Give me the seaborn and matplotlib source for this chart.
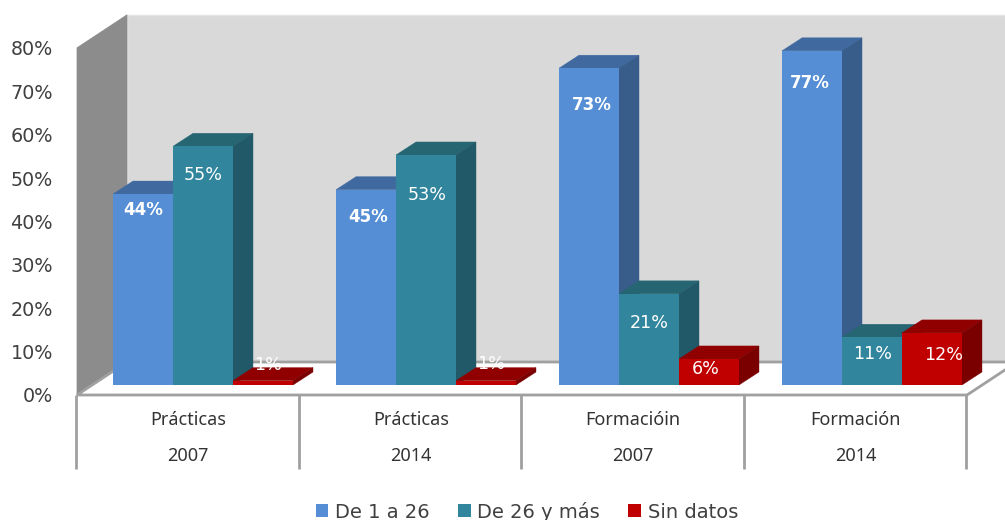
import matplotlib
matplotlib.use("Agg")
import matplotlib.pyplot as plt
from matplotlib.patches import Polygon
import pandas as pd
import seaborn as sns

# ---- data ----
groups = ["Prácticas 2007", "Prácticas 2014", "Formacióin 2007", "Formación 2014"]
group_line1 = ["Prácticas", "Prácticas", "Formacióin", "Formación"]
group_line2 = ["2007", "2014", "2007", "2014"]
series_names = ["De 1 a 26", "De 26 y más", "Sin datos"]
de_1_a_26 = [44, 45, 73, 77]
de_26_y_mas = [55, 53, 21, 11]
sin_datos = [1, 1, 6, 12]
y_ticks = [0, 10, 20, 30, 40, 50, 60, 70, 80]

# ---- style / layout ----
W, H = 1005, 520
PX_X = 223.0           # pixels per category
PX_Y = 4.34            # pixels per percentage point
X0_PX, Y0_PX = 203.0, 385.0
front_col = ["#558ED5", "#31859C", "#C00000"]
top_col = ["#4069A0", "#256672", "#900000"]
side_col = ["#385D8A", "#215968", "#7A0000"]
label_drop_px = [[16, 29, -16], [27, 40, -17], [37, 29, 10], [32, 17, 22]]
label_shift_px = [[0, 0, 5], [2, 1, 5], [3, 0, -3], [-2, 1, 12]]
DX, DY = 20 / PX_X, 13 / PX_Y             # bar depth
WX, WY = 50 / PX_X, 33 / PX_Y             # chart depth
FX0, FX1 = (77 - X0_PX) / PX_X, (967 - X0_PX) / PX_X   # front floor edge
FY = -10 / PX_Y
TICK_DROP = 2 / PX_Y
TEXT = "#404040"
EDGE = "#A0A0A0"

sns.set_theme(style="white")
plt.rcParams["font.family"] = ["DejaVu Sans"]

df = pd.DataFrame({
    "grupo": groups * 3,
    "serie": [s for s in series_names for _ in groups],
    "valor": de_1_a_26 + de_26_y_mas + sin_datos,
})

fig = plt.figure(figsize=(W / 100, H / 100), dpi=100, facecolor="white")
ax = fig.add_axes([0, 0, 1, 1])
sns.barplot(data=df, x="grupo", y="valor", hue="serie", order=groups,
            hue_order=series_names, palette=front_col, saturation=1,
            width=0.807, gap=0, errorbar=None, linewidth=0, legend=False, ax=ax)
ax.set_xlim((0 - X0_PX) / PX_X, (W - X0_PX) / PX_X)
ax.set_ylim((Y0_PX - H) / PX_Y, Y0_PX / PX_Y)
ax.set_axis_off()

# walls and floor
ymax = y_ticks[-1]
ax.add_patch(Polygon([(FX0 + WX, FY + WY), (FX1 + WX, FY + WY), (FX1 + WX, FY + ymax + WY), (FX0 + WX, FY + ymax + WY)],
                     fc="#D9D9D9", ec="#E4E4E4", lw=1, zorder=0.5))
ax.add_patch(Polygon([(FX0, FY), (FX0 + WX, FY + WY), (FX0 + WX, FY + ymax + WY), (FX0, FY + ymax)],
                     fc="#8C8C8C", ec="#8C8C8C", lw=0.5, zorder=0.6))
ax.add_patch(Polygon([(FX0, FY), (FX1, FY), (FX1 + WX, FY + WY), (FX0 + WX, FY + WY)],
                     fc="white", ec=EDGE, lw=2, zorder=0.7))

# 3D faces for every bar
handles = []
for h, cont in enumerate(ax.containers):
    handles.append(cont[0])
    for g, bar in enumerate(cont):
        z = 2 + g * 4 + h
        x0, w, v = bar.get_x(), bar.get_width(), bar.get_height()
        bar.set_zorder(z + 0.2)
        ax.add_patch(Polygon([(x0, v), (x0 + w, v), (x0 + w + DX, v + DY), (x0 + DX, v + DY)],
                             fc=top_col[h], ec=top_col[h], lw=0.3, zorder=z))
        ax.add_patch(Polygon([(x0 + w, 0), (x0 + w + DX, DY), (x0 + w + DX, v + DY), (x0 + w, v)],
                             fc=side_col[h], ec=side_col[h], lw=0.3, zorder=z + 0.1))
        ax.text(x0 + w / 2 + label_shift_px[g][h] / PX_X, v - label_drop_px[g][h] / PX_Y,
                f"{v:.0f}%", color="white", ha="center", va="center",
                fontsize=12 if h == 0 else 12.6, fontweight="bold" if h == 0 else "normal",
                zorder=50)

# value axis labels on the front plane
for t in y_ticks:
    ax.text((53 - X0_PX) / PX_X, FY + t - TICK_DROP, f"{t}%", color=TEXT, fontsize=13.8, ha="right", va="center", zorder=60)

# category axis table
step = (FX1 - FX0) / len(groups)
row_h = 74 / PX_Y
for i in range(len(groups) + 1):
    ax.plot([FX0 + i * step - 1 / PX_X] * 2, [FY, FY - row_h], color=EDGE, lw=2, solid_capstyle="butt", zorder=1)
for i, (a, b) in enumerate(zip(group_line1, group_line2)):
    xc = FX0 + (i + 0.5) * step
    ax.text(xc, FY - 25 / PX_Y, a, color="#333333", fontsize=13, family="Noto Sans", ha="center", va="center", zorder=60)
    ax.text(xc, FY - 61 / PX_Y, b, color="#333333", fontsize=13, family="Noto Sans", ha="center", va="center", zorder=60)

# legend
ax.legend(handles, series_names, loc="lower left", bbox_to_anchor=(306 / W, -0.022), ncol=3,
          frameon=False, fontsize=14, handlelength=0.65, handleheight=0.65,
          handletextpad=0.35, columnspacing=1.45, labelcolor=TEXT, borderpad=0.0)

fig.savefig("out.png", dpi=100, facecolor="white")
